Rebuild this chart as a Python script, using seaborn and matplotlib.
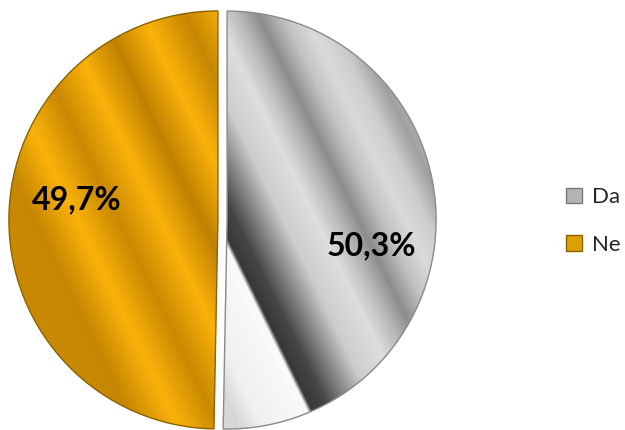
import numpy as np
import matplotlib.pyplot as plt
import seaborn as sns
from matplotlib.patches import Patch

# Data
categories = ["Da", "Ne"]
shares = [50.3, 49.7]
share_labels = ["50,3%", "49,7%"]

sns.set_style("white")
plt.rcParams['font.family'] = ['Lato', 'DejaVu Sans']

fig = plt.figure(figsize=(6.25, 4.3), dpi=100)
R_PX = 209.0
lim = 1.06
w = 2 * lim * R_PX
ax = fig.add_axes([(222.5 - w / 2) / 625, (210 - w / 2) / 430, w / 625, w / 430])

wedges, _ = ax.pie(shares, startangle=90, counterclock=False,
                   explode=[0.022, 0.022], radius=1,
                   wedgeprops=dict(facecolor='none', linewidth=1.0, zorder=3))
wedges[0].set_edgecolor('#8a8a8a')
wedges[1].set_edgecolor('#8a6200')

# metallic stripe fills (Excel-like gradient), stops along a tilted axis
gray_stops = [-260, -80, -60, -12, -8, 8, 50, 80, 100, 118, 140, 160, 180, 200, 230, 260]
gray_vals = [215, 215, 240, 250, 55, 70, 205, 222, 185, 140, 195, 218, 205, 160, 195, 200]
gold_stops = [-260, -165, -127, -90, -52, -15, 22, 60, 97, 135, 172, 260]
gold_t = [0.3, 0.2, 1.0, 0.25, 1.0, 0.1, 1.0, 0.2, 1.0, 0.3, 1.0, 0.5]
gold_bright = np.array([250, 178, 10]) / 255
gold_dark = np.array([185, 124, 0]) / 255

n = 500
xs = np.linspace(-lim, lim, n)
X, Y = np.meshgrid(xs, xs)
for i, wedge in enumerate(wedges):
    cx, cy = wedge.center
    s = (0.9 * (X - cx) + 0.44 * (Y - cy)) * R_PX
    if i == 0:
        v = np.interp(s, gray_stops, gray_vals) / 255
        img = np.dstack([v, v, v])
    else:
        t = np.interp(s, gold_stops, gold_t)[..., None]
        img = gold_dark + (gold_bright - gold_dark) * t
    im = ax.imshow(img, extent=(-lim, lim, -lim, lim), origin='lower',
                   interpolation='bilinear', zorder=1)
    im.set_clip_path(wedge)

ax.set_xlim(-lim, lim)
ax.set_ylim(-lim, lim)
ax.set_aspect('equal')
ax.axis('off')

# percentage labels
label_pos = [(0.71, -0.124), (-0.696, 0.096)]
for (lx, ly), txt in zip(label_pos, share_labels):
    ax.text(lx, ly, txt, ha='center', va='center', fontsize=23,
            fontweight='bold', color='black', zorder=4)

handles = [Patch(facecolor='#b4b4b4', edgecolor='#7a7a7a'),
           Patch(facecolor='#dca000', edgecolor='#8a6200')]
fig.legend(handles, categories, loc='center left',
           bbox_to_anchor=(566 / 625, 1 - 221 / 430), frameon=False,
           fontsize=16, handlelength=0.7, handleheight=0.7,
           handletextpad=0.45, labelspacing=1.25, borderpad=0, borderaxespad=0)

plt.savefig("out.png", dpi=100)
